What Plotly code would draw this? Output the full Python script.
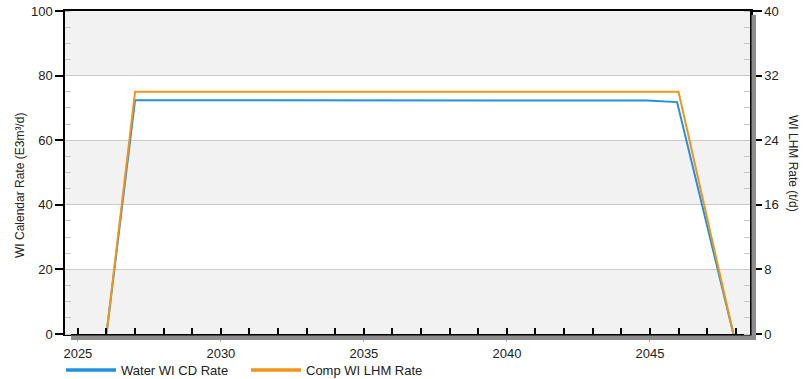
import plotly.graph_objects as go

# Water WI calendar-day rate (E3m3/d, left axis)
water_years = [2026.0, 2027.0, 2044.9, 2045.95, 2047.92]
water_rate = [0.0, 72.4, 72.3, 71.8, 0.0]

# Component WI LHM rate (t/d, right axis)
comp_years = [2026.0, 2027.0, 2046.0, 2047.92]
comp_rate = [0.0, 30.0, 30.0, 0.0]

year_ticks = [2025, 2030, 2035, 2040, 2045]
left_ticks = [0, 20, 40, 60, 80, 100]
right_ticks = [0, 8, 16, 24, 32, 40]

BLUE = "#2090e0"
ORANGE = "#f39418"
BAND = "#f2f2f2"
SHADOW = "#8c8c8c"
FONT = "Liberation Sans, Arial, sans-serif"

W, H = 803, 379
ML, MR, MT, MB = 65, 53, 11, 45
PW = W - ML - MR
PH = H - MT - MB

fig = go.Figure()
fig.add_trace(go.Scatter(
    x=water_years, y=water_rate, mode="lines", name="Water WI CD Rate",
    line=dict(color=BLUE, width=2), yaxis="y", showlegend=False))
fig.add_trace(go.Scatter(
    x=comp_years, y=comp_rate, mode="lines", name="Comp WI LHM Rate",
    line=dict(color=ORANGE, width=2), yaxis="y2", showlegend=False))
# legend keys drawn with a heavier stroke
fig.add_trace(go.Scatter(x=[None], y=[None], mode="lines", name="Water WI CD Rate",
                         line=dict(color=BLUE, width=3.5)))
fig.add_trace(go.Scatter(x=[None], y=[None], mode="lines", name="Comp WI LHM Rate",
                         line=dict(color=ORANGE, width=3.5)))

shapes = []
# alternating horizontal bands
for lo, hi in [(0, 20), (40, 60), (80, 100)]:
    shapes.append(dict(type="rect", xref="paper", yref="y", x0=0, x1=1,
                       y0=lo, y1=hi, fillcolor=BAND, line=dict(width=0),
                       layer="below"))
# drop shadow along the right and bottom frame
shapes.append(dict(type="rect", xref="paper", yref="paper",
                   x0=1 + 1.5 / PW, x1=1 + 6 / PW, y0=-6 / PH, y1=1 - 4 / PH,
                   fillcolor=SHADOW, line=dict(width=0), layer="above"))
shapes.append(dict(type="rect", xref="paper", yref="paper",
                   x0=6 / PW, x1=1 + 6 / PW, y0=-6 / PH, y1=-1.5 / PH,
                   fillcolor=SHADOW, line=dict(width=0), layer="above"))

annotations = [
    dict(text="WI Calendar Rate (E3m³/d)", xref="paper", yref="paper",
         x=-45 / PW, y=(334 - 186) / PH, textangle=-90, showarrow=False,
         font=dict(size=12, color="#222222", family=FONT),
         xanchor="center", yanchor="middle"),
    dict(text="WI LHM Rate (t/d)", xref="paper", yref="paper",
         x=1 + 43 / PW, y=(334 - 163) / PH, textangle=90, showarrow=False,
         font=dict(size=12, color="#222222", family=FONT),
         xanchor="center", yanchor="middle"),
]

fig.update_layout(
    width=W, height=H,
    margin=dict(l=ML, r=MR, t=MT, b=MB, autoexpand=False),
    paper_bgcolor="white", plot_bgcolor="white",
    font=dict(family=FONT, size=13, color="#222222"),
    shapes=shapes, annotations=annotations,
    showlegend=True,
    legend=dict(orientation="h", x=-4 / PW, xanchor="left",
                y=-36 / PH, yanchor="middle",
                font=dict(size=13, family=FONT, color="#222222"),
                itemwidth=50, entrywidth=120, entrywidthmode="pixels",
                bgcolor="rgba(0,0,0,0)"),
    xaxis=dict(range=[2024.55, 2048.5], tickvals=year_ticks,
               ticks="outside", ticklen=6, tickcolor="#b0b0b0", tickwidth=1,
               showgrid=False, zeroline=False,
               showline=True, linecolor="black", linewidth=2, mirror=True,
               minor=dict(dtick=1, tick0=2025, ticks="inside", ticklen=6,
                          tickcolor="black", tickwidth=1.5, showgrid=False),
               tickfont=dict(size=13)),
    yaxis=dict(range=[0, 100], tickvals=left_ticks,
               ticks="outside", ticklen=8, tickcolor="black", tickwidth=1.5,
               showgrid=True, gridcolor="#cccccc", gridwidth=1,
               zeroline=False, showline=True, linecolor="black", linewidth=1.5,
               minor=dict(dtick=5, ticks="inside", ticklen=6,
                          tickcolor="#c8c8c8", tickwidth=1, showgrid=False),
               tickfont=dict(size=13)),
    yaxis2=dict(range=[0, 40], tickvals=right_ticks, overlaying="y",
                side="right", ticks="outside", ticklen=9, tickcolor="black",
                tickwidth=1.5, showgrid=False, zeroline=False,
                showline=True, linecolor="black", linewidth=2.5,
                minor=dict(dtick=2, ticks="inside", ticklen=6,
                           tickcolor="#c8c8c8", tickwidth=1, showgrid=False),
                tickfont=dict(size=13)),
)

fig.write_html("out.html")
